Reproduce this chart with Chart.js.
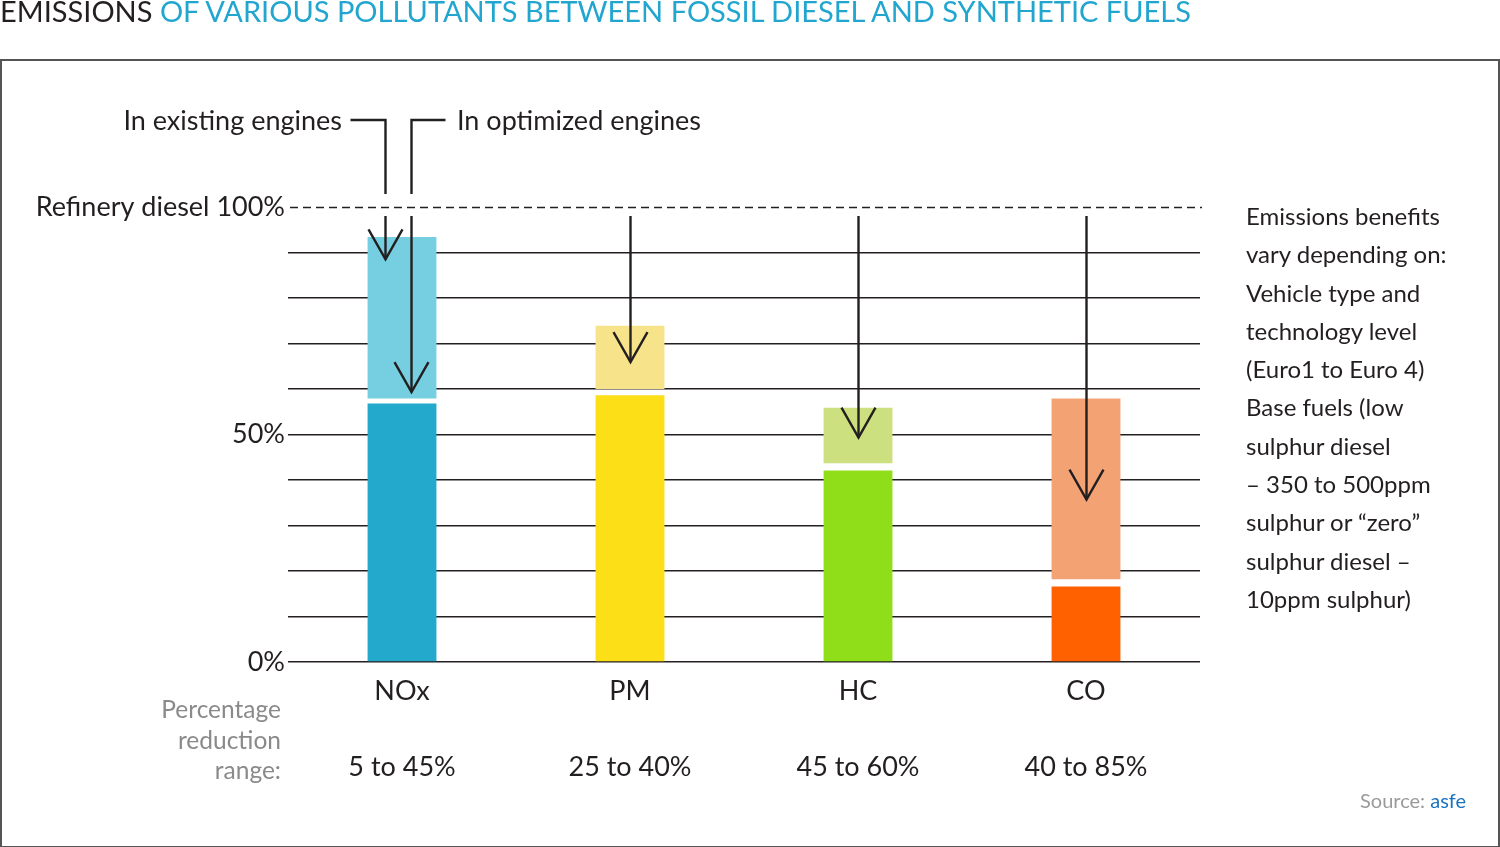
<!DOCTYPE html>
<html>
<head>
<meta charset="utf-8">
<script src="https://cdn.jsdelivr.net/npm/chart.js@4.4.1/dist/chart.umd.min.js"></script>
<style>
  html, body { margin: 0; padding: 0; background: #fff; }
  #wrap { position: relative; width: 1500px; height: 847px; overflow: hidden; font-family: Lato, "Open Sans", sans-serif; color: #231f20; }
  #c { position: absolute; left: 0; top: 0; }
  .t { position: absolute; white-space: nowrap; }
  #frame { position: absolute; left: 0; top: 59px; width: 1496px; height: 785px; border: 2px solid #555; }
  #title { left: 0; top: -7px; font-size: 29px; letter-spacing: 0; }
  #title .b { color: #22a6cf; }
  #lblA { right: 1158px; top: 103px; font-size: 27px; }
  #lblB { left: 457px; top: 103px; font-size: 27px; }
  #pct { right: 1219px; top: 694px; font-size: 24.5px; color: #8a8a8a; text-align: right; line-height: 30.5px; }
  #note { left: 1246px; top: 197px; font-size: 24px; line-height: 38.3px; }
  #src { left: 1360px; top: 788px; font-size: 20px; color: #9a9a9a; }
  #src span { color: #1b73c0; }
</style>
</head>
<body>
<div id="wrap">
  <canvas id="c" width="1500" height="847"></canvas>
  <div id="frame"></div>
  <div class="t" id="title">EMISSIONS <span class="b">OF VARIOUS POLLUTANTS BETWEEN FOSSIL DIESEL AND SYNTHETIC FUELS</span></div>
  <div class="t" id="lblA">In existing engines</div>
  <div class="t" id="lblB">In optimized engines</div>
  <div class="t" id="pct">Percentage<br>reduction<br>range:</div>
  <div class="t" id="note">Emissions benefits<br>vary depending on:<br>Vehicle type and<br>technology level<br>(Euro1 to Euro 4)<br>Base fuels (low<br>sulphur diesel<br>– 350 to 500ppm<br>sulphur or “zero”<br>sulphur diesel –<br>10ppm sulphur)</div>
  <div class="t" id="src">Source: <span>asfe</span></div>
</div>
<script>
// ---- data ----
const categories = ['NOx', 'PM', 'HC', 'CO'];
const reductionRange = ['5 to 45%', '25 to 40%', '45 to 60%', '40 to 85%'];
// optimized-engine emissions (dark, from 0)
const optimizedTop = [56.8, 58.6, 42.1, 16.6];
// existing-engine emissions range (light)
const existingLow = [57.9, 60.0, 43.7, 18.2];
const existingHigh = [93.4, 73.9, 55.9, 57.9];
// arrow tips (value, %), category index
const arrowCat = [0, 0, 1, 2, 3];
const arrowTip = [88.5, 59.3, 65.9, 49.3, 35.7];
const yTickLabels = { 0: '0%', 50: '50%', 100: 'Refinery diesel 100%' };

// ---- styles ----
const darkColors = ['#22a9cb', '#fddf17', '#90de19', '#ff6100'];
const lightColors = ['#75cfe0', '#f7e48a', '#cde07f', '#f3a274'];
const arrowOffsets = [-17.5, 8.5, 0, 0, 0];
const INK = '#231f20';

const arrowsPlugin = {
  id: 'arrows',
  beforeDatasetsDraw(chart) {
    const { ctx, chartArea } = chart;
    const y = chart.scales.y;
    const yy = Math.round(y.getPixelForValue(100)) + 0.5;
    ctx.save();
    ctx.strokeStyle = INK;
    ctx.lineWidth = 1.5;
    ctx.setLineDash([8, 5]);
    ctx.beginPath();
    ctx.moveTo(chartArea.left + 2, yy);
    ctx.lineTo(chartArea.right + 2, yy);
    ctx.stroke();
    ctx.restore();
  },
  afterDatasetsDraw(chart) {
    const { ctx } = chart;
    const x = chart.scales.x, y = chart.scales.y;
    const top100 = y.getPixelForValue(100);
    ctx.save();
    ctx.strokeStyle = INK;
    ctx.lineWidth = 2.4;
    ctx.lineCap = 'butt';
    ctx.lineJoin = 'miter';
    arrowTip.forEach((v, i) => {
      const px = Math.round(x.getPixelForValue(arrowCat[i]) + arrowOffsets[i]) + 0.5;
      const tip = y.getPixelForValue(v);
      ctx.beginPath();
      ctx.moveTo(px, top100 + 9);
      ctx.lineTo(px, tip);
      ctx.stroke();
      ctx.beginPath();
      ctx.moveTo(px - 17, tip - 30);
      ctx.lineTo(px, tip);
      ctx.lineTo(px + 17, tip - 30);
      ctx.stroke();
    });
    // connectors to the two NOx labels
    const pA = Math.round(x.getPixelForValue(0) + arrowOffsets[0]) + 0.5;
    const pB = Math.round(x.getPixelForValue(0) + arrowOffsets[1]) + 0.5;
    const cy = top100 - 87, cb = top100 - 13;
    ctx.beginPath();
    ctx.moveTo(pA - 35, cy); ctx.lineTo(pA, cy); ctx.lineTo(pA, cb);
    ctx.moveTo(pB + 34, cy); ctx.lineTo(pB, cy); ctx.lineTo(pB, cb);
    ctx.stroke();
    ctx.restore();
  }
};

new Chart(document.getElementById('c'), {
  type: 'bar',
  data: {
    labels: categories.map((c, i) => [c, '', reductionRange[i]]),
    datasets: [
      {
        label: 'Optimized engines',
        data: optimizedTop.map(v => [0, v]),
        backgroundColor: darkColors,
        grouped: false,
        barPercentage: 0.302,
        categoryPercentage: 1,
        borderWidth: 0
      },
      {
        label: 'Existing engines',
        data: existingLow.map((v, i) => [v, existingHigh[i]]),
        backgroundColor: lightColors,
        grouped: false,
        barPercentage: 0.302,
        categoryPercentage: 1,
        borderWidth: 0
      }
    ]
  },
  options: {
    responsive: false,
    animation: false,
    devicePixelRatio: 1,
    layout: { padding: { top: 207, right: 300, left: 0, bottom: 0 } },
    plugins: { legend: { display: false }, tooltip: { enabled: false }, title: { display: false } },
    scales: {
      x: {
        grid: { display: false },
        border: { display: false },
        ticks: {
          color: INK,
          font: { family: 'Lato', size: 27, lineHeight: 1.41 },
          padding: 2,
          maxRotation: 0,
          autoSkip: false
        },
        afterFit(s) { s.height = 185; }
      },
      y: {
        min: 0, max: 100,
        border: { display: false },
        grid: {
          color: c => (c.tick && c.tick.value === 100) ? 'rgba(0,0,0,0)' : INK,
          lineWidth: 1.5,
          drawTicks: false
        },
        ticks: {
          stepSize: 10,
          autoSkip: false,
          color: INK,
          padding: 3,
          font: { family: 'Lato', size: 27 },
          callback: v => (yTickLabels[v] !== undefined ? yTickLabels[v] : '')
        },
        afterFit(s) { s.width = 288; }
      }
    }
  },
  plugins: [arrowsPlugin]
});
</script>
</body>
</html>
